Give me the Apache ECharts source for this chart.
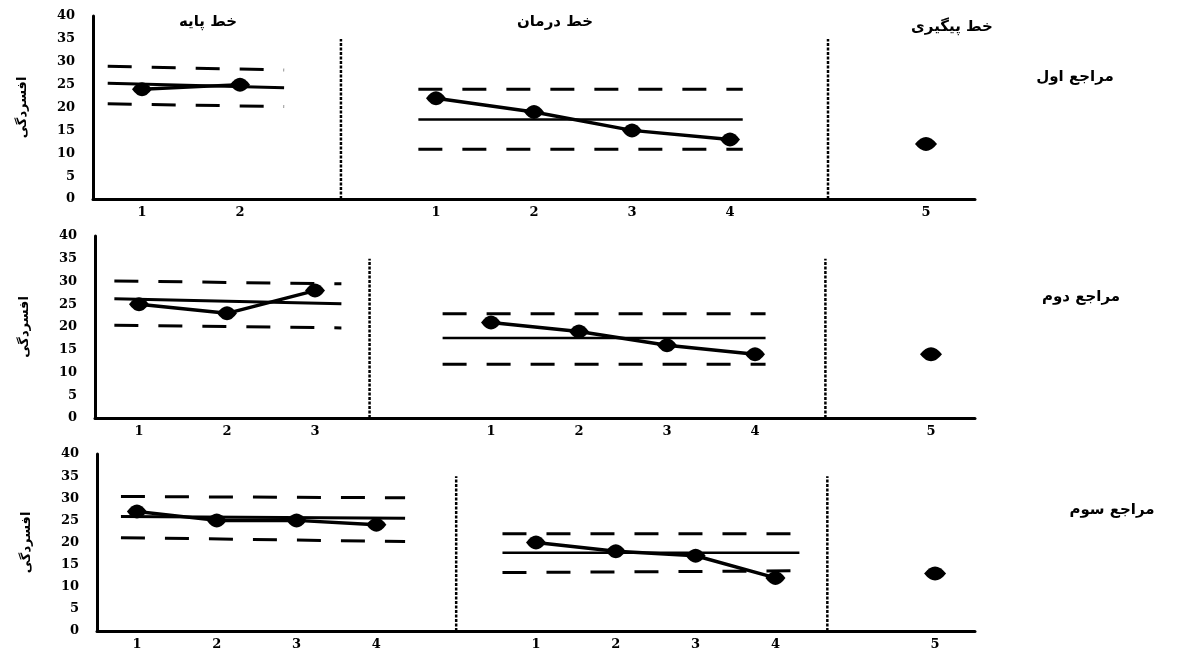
<!DOCTYPE html>
<html><head><meta charset="utf-8">
<script src="https://cdn.jsdelivr.net/npm/echarts@6/dist/echarts.min.js"></script>
<style>html,body{margin:0;padding:0;background:#fff}#c{width:1180px;height:651px}</style>
</head><body><div id="c"></div>
<script>
// ---- data ----
const clients = ['مراجع اول', 'مراجع دوم', 'مراجع سوم'];
const phaseNames = ['خط پایه', 'خط درمان', 'خط پیگیری'];
const yName = 'افسردگی';
const yMin = 0, yMax = 40, yStep = 5;

const c1Base = [24, 25];
const c1Treat = [22, 19, 15, 13];
const c1Follow = [12];
const c1BaseMean = [25.3, 24.3], c1BaseUpper = [29.0, 28.2], c1BaseLower = [20.8, 20.2];
const c1TreatMean = [17.4, 17.4], c1TreatUpper = [24.0, 24.0], c1TreatLower = [10.9, 10.9];

const c2Base = [25, 23, 28];
const c2Treat = [21, 19, 16, 14];
const c2Follow = [14];
const c2BaseMean = [26.2, 25.1], c2BaseUpper = [30.1, 29.5], c2BaseLower = [20.4, 19.8];
const c2TreatMean = [17.6, 17.6], c2TreatUpper = [22.9, 22.9], c2TreatLower = [11.8, 11.8];

const c3Base = [27, 25, 25, 24];
const c3Treat = [20, 18, 17, 12];
const c3Follow = [13];
const c3BaseMean = [25.9, 25.5], c3BaseUpper = [30.4, 30.1], c3BaseLower = [21.1, 20.2];
const c3TreatMean = [17.7, 17.7], c3TreatUpper = [22.0, 22.0], c3TreatLower = [13.2, 13.6];

const phaseLineTop = 35;

// ---- layout ----
const panels = [
  {base: c1Base, treat: c1Treat, follow: c1Follow,
   bm: c1BaseMean, bu: c1BaseUpper, bl: c1BaseLower, tm: c1TreatMean, tu: c1TreatUpper, tl: c1TreatLower,
   grid: {left: 93, top: 16, height: 183}, bExt: [0.35, 0.45], tExt: [0.18, 0.13], phOff: [0.03, 0], labelY: 77, labelX: 1075},
  {base: c2Base, treat: c2Treat, follow: c2Follow,
   bm: c2BaseMean, bu: c2BaseUpper, bl: c2BaseLower, tm: c2TreatMean, tu: c2TreatUpper, tl: c2TreatLower,
   grid: {left: 95, top: 236, height: 182}, bExt: [0.28, 0.3], tExt: [0.55, 0.12], phOff: [-0.38, -0.2], labelY: 297, labelX: 1081},
  {base: c3Base, treat: c3Treat, follow: c3Follow,
   bm: c3BaseMean, bu: c3BaseUpper, bl: c3BaseLower, tm: c3TreatMean, tu: c3TreatUpper, tl: c3TreatLower,
   grid: {left: 97, top: 454, height: 182}, bExt: [0.2, 0.36], tExt: [0.42, 0.3], phOff: [0, -0.35], labelY: 510, labelX: 1112}
];
const rightEdge = 975;
const marker = 'path://M0,6 Q9,-4 18,6 Q9,16 0,6 Z';

const grids = [], xAxes = [], yAxes = [], series = [], graphics = [];
const serif = 'DejaVu Serif';
const black = '#000';

panels.forEach((p, i) => {
  const nb = p.base.length, nt = p.treat.length;
  const N = nb + nt + 3;
  const labels = [];
  p.base.forEach((_, k) => labels.push(String(k + 1)));
  labels.push('');
  p.treat.forEach((_, k) => labels.push(String(k + 1)));
  labels.push('');
  labels.push(String(nt + 1));

  grids.push({left: p.grid.left, top: p.grid.top, height: p.grid.height, width: rightEdge - p.grid.left});
  xAxes.push({type: 'category', gridIndex: i, data: labels, boundaryGap: true,
    axisTick: {show: false},
    axisLine: {lineStyle: {color: black, width: 3}},
    axisLabel: {color: black, fontFamily: serif, fontWeight: 'bold', fontSize: 13, margin: 7, interval: 0}});
  xAxes.push({type: 'value', gridIndex: i, min: -0.5, max: N - 0.5, show: false});
  yAxes.push({type: 'value', gridIndex: i, min: yMin, max: yMax, interval: yStep,
    name: yName, nameLocation: 'middle', nameGap: 64, nameRotate: 90,
    nameTextStyle: {color: black, fontFamily: 'DejaVu Sans', fontWeight: 'bold', fontSize: 13},
    splitLine: {show: false}, axisTick: {show: false},
    axisLine: {show: true, onZero: false, lineStyle: {color: black, width: 3}},
    axisLabel: {color: black, fontFamily: serif, fontWeight: 'bold', fontSize: 13, margin: 18}});

  const xi = i * 2 + 1;
  const pts = (vals, off) => vals.map((v, k) => [off + k, v]);
  const lineSeries = (data) => ({type: 'line', xAxisIndex: xi, yAxisIndex: i, data,
    symbol: marker, symbolSize: [20, 14], itemStyle: {color: black, opacity: 1},
    lineStyle: {color: black, width: 3.5}, z: 5, animation: false});
  series.push(lineSeries(pts(p.base, 0)));
  series.push(lineSeries(pts(p.treat, nb + 1)));
  series.push({type: 'scatter', xAxisIndex: xi, yAxisIndex: i, data: pts(p.follow, nb + nt + 2),
    symbol: marker, symbolSize: [22, 14], itemStyle: {color: black, opacity: 1}, z: 5, animation: false});

  const seg = (x0, x1, vals, type, width) => ({type: 'line', xAxisIndex: xi, yAxisIndex: i,
    data: [[x0, vals[0]], [x1, vals[1]]], symbol: 'none',
    lineStyle: {color: black, width, type}, z: 3, animation: false});
  const bx0 = -p.bExt[0], bx1 = nb - 1 + p.bExt[1];
  const tx0 = nb + 1 - p.tExt[0], tx1 = nb + nt + p.tExt[1];
  series.push(seg(bx0, bx1, p.bm, 'solid', 3));
  series.push(seg(bx0, bx1, p.bu, [24, 20], 3));
  series.push(seg(bx0, bx1, p.bl, [24, 20], 3));
  series.push(seg(tx0, tx1, p.tm, 'solid', 2.5));
  series.push(seg(tx0, tx1, p.tu, [24, 20], 3));
  series.push(seg(tx0, tx1, p.tl, [24, 20], 3));

  const ph1 = nb + p.phOff[0], ph2 = nb + nt + 1 + p.phOff[1];
  [ph1, ph2].forEach(x => series.push({type: 'line', xAxisIndex: xi, yAxisIndex: i,
    data: [[x, 0], [x, phaseLineTop]], symbol: 'none',
    lineStyle: {color: black, width: 2.5, type: [3, 1.5]}, z: 2, animation: false}));

  graphics.push({type: 'text', x: p.labelX, y: p.labelY,
    style: {text: clients[i], fill: black, font: 'bold 15px "DejaVu Sans"', align: 'center', verticalAlign: 'middle'}});
});

const titlePos = [[208, 22], [555, 22], [952, 27]];
phaseNames.forEach((t, k) => graphics.push({type: 'text', x: titlePos[k][0], y: titlePos[k][1],
  style: {text: t, fill: black, font: 'bold 15px "DejaVu Sans"', align: 'center', verticalAlign: 'middle'}}));

const chart = echarts.init(document.getElementById('c'));
chart.setOption({animation: false, backgroundColor: '#fff', grid: grids, xAxis: xAxes, yAxis: yAxes, series, graphic: graphics});
</script>
</body></html>
